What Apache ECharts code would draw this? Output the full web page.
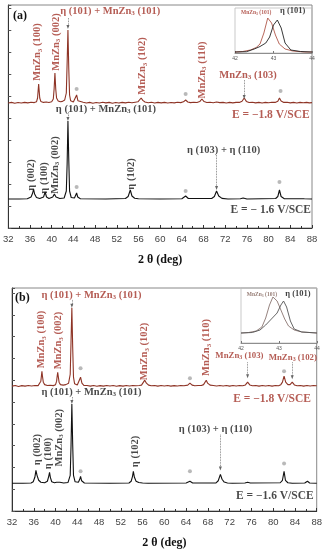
<!DOCTYPE html>
<html><head><meta charset="utf-8">
<script src="https://cdn.jsdelivr.net/npm/echarts@6/dist/echarts.min.js"></script>
<style>html,body{margin:0;padding:0;background:#fff}#c{width:325px;height:550px}</style>
</head><body><div id="c"></div>
<script>
// ---- data (2θ in deg, intensity above each pattern's own baseline, arbitrary units) ----
const redA = [[32,0],[32.6,0.6],[33.2,-0.3],[33.8,0.5],[34.4,0],[35,0.6],[35.6,0.1],[36.2,0.7],[36.8,0.4],[37.2,1.2],[37.4,5],[37.5,12],[37.6,19],[37.7,12],[37.8,5],[38,1.6],[38.5,0.6],[39,1],[39.5,0.5],[40,1.2],[40.3,4],[40.45,14],[40.6,30],[40.75,14],[40.9,5],[41.2,2],[41.6,1.2],[42,1.6],[42.4,3],[42.7,10],[42.85,40],[43,73],[43.15,35],[43.3,8],[43.5,2.2],[44,1],[44.35,2.5],[44.6,8],[44.85,2.2],[45.2,0.6],[45.8,0.8],[46.4,0],[47,0.6],[47.6,-0.2],[48.2,0.5],[48.8,0],[49.4,0.7],[50,0.1],[50.6,0.6],[51.2,-0.2],[51.8,0.5],[52.4,0],[53,0.6],[53.6,0.1],[54.2,0.7],[54.8,0.3],[55.4,0.8],[55.9,1.2],[56.2,2.8],[56.5,5],[56.8,2.6],[57.2,1],[57.8,0.3],[58.4,0.7],[59,0],[59.6,0.6],[60.2,0.1],[60.8,0.6],[61.4,0],[62,0.5],[62.6,0.1],[63.2,0.7],[63.8,0.4],[64.3,1.2],[64.7,3],[65.1,1],[65.6,0.4],[66.2,0.7],[66.8,0.5],[67.3,1.4],[67.7,4],[68.1,1.4],[68.6,0.5],[69.2,0.8],[69.8,0.3],[70.4,1],[71,0.4],[71.6,0.6],[72.2,0],[72.8,0.6],[73.4,0.1],[74,0.6],[74.6,0.6],[75.1,1.8],[75.5,5],[75.9,1.6],[76.4,0.5],[77,0.7],[77.6,0.1],[78.2,0.6],[78.8,0],[79.4,0.6],[80,0.2],[80.6,0.7],[81.2,0.6],[81.7,1.8],[82,5],[82.3,2],[82.8,0.6],[83.4,0.8],[84,0.1],[84.6,0.6],[85.2,0],[85.8,0.6],[86.4,0.3],[87,0.6],[87.5,0.1],[88,0.4]];
const blackA = [[32,0],[34,0],[35.5,0.3],[36.2,2],[36.5,6],[36.66,10],[36.85,5],[37.2,1.5],[37.8,0.5],[38.5,2],[38.8,7],[39.05,2],[39.5,0.6],[40.2,2],[40.5,5],[40.8,2],[41.5,0.5],[42.3,1],[42.7,8],[42.85,35],[43,78],[43.15,40],[43.3,8],[43.6,1.5],[44.2,1],[44.45,3],[44.6,6],[44.8,2],[45.3,0.3],[50,0],[53.6,0.5],[54.1,2.5],[54.5,9],[54.8,3],[55.3,0.8],[56,0.2],[60,0],[64,0.3],[64.7,3],[65.2,0.5],[69.5,0.5],[70,2.5],[70.4,8],[70.8,3],[71.4,0.6],[72.5,0],[74.8,0.2],[75.3,1],[76,0],[81.3,0.5],[81.7,2.5],[82,9],[82.3,2.5],[82.9,0.3],[86,0.3],[86.3,1],[86.6,0.2],[88,0]];
const redB = [[32,0],[32.6,0.6],[33.2,-0.3],[33.8,0.5],[34.4,0],[35,0.6],[35.6,0.1],[36.2,0.6],[36.8,0.5],[37.1,1.5],[37.3,5],[37.4,10],[37.5,15],[37.6,10],[37.75,4],[38,1.5],[38.5,0.6],[39,0.9],[39.6,0.5],[40,1.5],[40.2,5],[40.3,10],[40.4,14],[40.5,10],[40.65,4],[40.9,1.5],[41.4,1],[41.9,1.5],[42.4,3],[42.7,12],[42.85,45],[43,79],[43.15,40],[43.3,9],[43.5,2.5],[44,1.2],[44.35,3],[44.6,9],[44.85,3],[45.2,0.8],[45.8,0.6],[46.4,0],[47,0.6],[47.6,-0.2],[48.2,0.5],[48.8,0],[49.4,0.7],[50,0.1],[50.6,0.6],[51.2,-0.2],[51.8,0.5],[52.4,0],[53,0.6],[53.6,0.1],[54.2,0.7],[54.8,0.3],[55.4,0.6],[55.8,1],[56.1,3],[56.4,6],[56.7,3],[57.1,1],[57.6,0.3],[58.2,0.7],[58.8,0],[59.4,0.6],[60,0.1],[60.6,0.6],[61.2,0],[61.8,0.5],[62.4,0.1],[63,0.7],[63.6,0.3],[64.3,1],[64.7,3],[65.1,1],[65.6,0.4],[66.2,0.7],[66.8,0.6],[67.2,1.5],[67.5,3.5],[67.7,6],[67.95,3],[68.4,1],[69,0.6],[69.6,0.2],[70.2,0.7],[70.8,0.1],[71.4,0.6],[72,0],[72.6,0.6],[73.2,0.1],[73.8,0.6],[74.4,0.3],[74.9,1.2],[75.3,4],[75.7,1.2],[76.2,0.4],[76.8,0.7],[77.4,0],[78,0.6],[78.6,0.1],[79.2,0.6],[79.8,0],[80.4,0.6],[81,0.4],[81.4,1.5],[81.7,4],[82,10],[82.3,4],[82.7,1.5],[83.1,1.5],[83.5,4],[83.9,1.2],[84.4,0.4],[85,0.6],[85.6,0],[86.2,0.6],[86.8,0.1],[87.4,0.6],[88,0.3]];
const blackB = [[32,0],[34,0],[35.5,0.3],[35.9,1.5],[36.2,6],[36.4,13],[36.6,8],[36.9,3],[37.3,1],[38,0.5],[38.5,2],[38.75,7],[38.9,11],[39.05,6],[39.3,1.5],[39.8,0.5],[40.2,1],[40.5,2],[40.8,1],[41.5,0.3],[42.3,0.8],[42.7,8],[42.85,38],[43,80],[43.15,40],[43.3,8],[43.6,1.5],[44.2,1],[44.45,4],[44.6,7],[44.8,2.5],[45.3,0.3],[50,0],[53.5,0.3],[53.9,2],[54.15,7],[54.3,12],[54.5,6],[54.8,2],[55.3,0.7],[56,0.3],[57,0],[64,0.2],[64.7,2],[65.2,0.3],[69.5,0.4],[69.9,2.5],[70.3,9],[70.6,4],[71,1.2],[71.6,0.3],[72.5,0],[74.8,0.2],[75.3,1],[75.8,0.2],[81.3,0.5],[81.7,3],[82,12],[82.25,3],[82.7,0.5],[83.5,0],[85.8,0.2],[86.3,2],[86.7,0.3],[88,0]];
// insets: zoom on the (101) reflection, 42-44 deg
const insetRedA = [[42,1],[42.2,1.5],[42.4,3],[42.55,5.5],[42.65,9],[42.75,20],[42.85,35],[42.95,30],[43.05,18],[43.15,9],[43.3,4],[43.5,2],[43.8,1],[44,1]];
const insetBlackA = [[42,1],[42.3,1.3],[42.5,4],[42.65,6.5],[42.8,10],[42.9,16],[43,28],[43.1,33],[43.2,25],[43.3,10],[43.45,3],[43.7,1.5],[44,1]];
const insetMnB = [[42,10],[42.2,10.5],[42.4,12],[42.55,16],[42.65,25],[42.75,38],[42.84,46],[42.95,42],[43.05,33],[43.15,24],[43.25,17],[43.4,13],[43.6,11],[44,10]];
const insetEtaB = [[42,10],[42.3,10.5],[42.5,13],[42.65,18],[42.8,24],[42.95,30],[43.05,38],[43.12,42],[43.2,36],[43.3,22],[43.4,14],[43.6,11],[44,10]];
// stacking offsets of the two patterns in each panel
const offsetsA = {black: 29, red: 125};
const offsetsB = {black: 28, red: 126};
// impurity peaks marked with dots (2θ, intensity incl. offset)
const dotsA = [[44.6,139],[64.7,134],[82.2,137],[44.6,41],[64.7,37],[82,46]];
const dotsB = [[44.6,144],[64.7,134],[82,141],[44.6,40],[64.7,40],[82,48]];
// arrows: [2θ, from, to]
const arrowsA = [[43,210,201],[75.5,148,131],[43,116,109],[70.4,73,40]];
const arrowsB = [[43,213,207],[75.3,150,136],[83.5,150,135],[43,115,110],[70.3,77,43]];
// annotations: [2θ, intensity, text, rotate, colour key]
const labelsA = [
  [50.8,217,'η (101) + MnZn_3 (101)',0,'r'],
  [37.4,176,'MnZn_3 (100)',90,'r'],
  [40.8,186,'MnZn_3 (002)',90,'r'],
  [56.7,162,'MnZn_3 (102)',90,'r'],
  [67.7,158,'MnZn_3 (110)',90,'r'],
  [76.2,153,'MnZn_3 (103)',0,'r'],
  [80.4,113,'E = −1.8 V/SCE',0,'R'],
  [50.0,119,'η (101) + MnZn_3 (101)',0,'k'],
  [36.2,53,'η (002)',90,'k'],
  [38.7,50,'η (100)',90,'k'],
  [40.6,63,'MnZn_3 (002)',90,'k'],
  [54.6,54,'η (102)',90,'k'],
  [71.7,78,'η (103) + η (110)',0,'k'],
  [80.4,18,'E = − 1.6 V/SCE',0,'K']
];
const labelsB = [
  [46.6,218,'η (101) + MnZn_3 (101)',0,'r'],
  [37.4,173,'MnZn_3 (100)',90,'r'],
  [40.5,172,'MnZn_3 (002)',90,'r'],
  [56.4,161,'MnZn_3 (102)',90,'r'],
  [67.7,165,'MnZn_3 (110)',90,'r'],
  [73.8,157,'MnZn_3 (103)',0,'rs'],
  [83.6,155,'MnZn_3 (102)',0,'rs'],
  [79.8,113,'E = −1.8 V/SCE',0,'R'],
  [46.6,120,'η (101) + MnZn_3 (101)',0,'k'],
  [36.6,62,'η (002)',90,'k'],
  [38.7,58,'η (100)',90,'k'],
  [40.6,74,'MnZn_3 (002)',90,'k'],
  [54.6,60,'η (102)',90,'k'],
  [69.4,82,'η (103) + η (110)',0,'k'],
  [80.3,15,'E = −1.6 V/SCE',0,'K']
];
const insetLabelsA = [[42.55,40,'MnZn_3 (101)','ir'],[43.5,42,'η (101)','ik']];
const insetLabelsB = [[42.55,48,'MnZn_3 (101)','ig'],[43.5,49,'η (101)','ik']];

// ---- styling ----
const RED = '#a3342b', RED_LINE = '#8e3426', SERIF = '"Liberation Serif", "DejaVu Serif", serif';
const styleMap = {
  r:{color:RED,size:10.5}, rs:{color:RED,size:8.8}, R:{color:RED,size:11.5},
  k:{color:'#1a1a1a',size:10.5}, K:{color:'#1a1a1a',size:11.5},
  ir:{color:RED,size:5.5}, ik:{color:'#111',size:8.5}, ig:{color:'#7a5a50',size:5.5}
};
function rt(s){ return s.replace(/_3/g,'{s|3}'); }
function shift(arr,off){ return arr.map(p=>[p[0],p[1]+off]); }

function labelSeries(list, xi, yi){
  return {
    type:'scatter', xAxisIndex:xi, yAxisIndex:yi, symbolSize:1, silent:true,
    itemStyle:{color:'rgba(0,0,0,0)'}, z:5,
    data:list.map(l=>{
      const st = styleMap[l[4]];
      return {value:[l[0],l[1]], label:{show:true, position:'inside', rotate:l[3], formatter:rt(l[2]),
        color:st.color, fontSize:st.size, fontFamily:SERIF, fontWeight:'bold',
        rich:{s:{fontSize:st.size*0.68, fontFamily:SERIF, fontWeight:'bold', color:st.color, verticalAlign:'bottom', lineHeight:st.size*1.15}}}};
    })
  };
}
function insetLabelSeries(list, xi, yi){
  return labelSeries(list.map(l=>[l[0],l[1],l[2],0,l[3]]), xi, yi);
}
function dotSeries(list, xi, yi){
  return {type:'scatter', xAxisIndex:xi, yAxisIndex:yi, symbol:'circle', symbolSize:4, silent:true,
    itemStyle:{color:'#a8a8a8'}, data:list, z:4};
}
function arrowSeries(list, xi, yi){
  return {type:'line', xAxisIndex:xi, yAxisIndex:yi, data:[], silent:true,
    markLine:{silent:true, symbol:['none','triangle'], symbolSize:[3,4], label:{show:false},
      lineStyle:{type:'dotted', color:'#666', width:0.8},
      data:list.map(a=>[{coord:[a[0],a[1]]},{coord:[a[0],a[2]]}])}};
}
function curve(data, xi, yi, color, w){
  return {type:'line', xAxisIndex:xi, yAxisIndex:yi, data:data, symbol:'none', silent:true,
    lineStyle:{color:color, width:w}, z:3};
}
function mainX(gi){
  return {gridIndex:gi, type:'value', min:32, max:88, interval:4,
    axisLine:{lineStyle:{color:'#333', width:1}},
    axisTick:{inside:true, length:3, lineStyle:{color:'#333'}},
    minorTick:{show:true, splitNumber:2, length:2, lineStyle:{color:'#333'}},
    axisLabel:{color:'#444', fontSize:9.5, fontFamily:'"Liberation Sans", Arial, sans-serif', margin:6},
    splitLine:{show:false},
    name:'2 θ (deg)', nameLocation:'middle', nameGap:26,
    nameTextStyle:{fontFamily:SERIF, fontWeight:'bold', fontSize:12, color:'#111'}};
}
function mainY(gi,max){
  return {gridIndex:gi, type:'value', min:0, max:max, interval:22,
    axisLine:{show:true, lineStyle:{color:'#333'}},
    axisTick:{show:true, inside:true, length:3, lineStyle:{color:'#555'}},
    axisLabel:{show:false}, splitLine:{show:false}};
}
function insetX(gi){
  return {gridIndex:gi, type:'value', min:42, max:44, interval:1,
    axisLine:{lineStyle:{color:'#777', width:0.8}},
    axisTick:{inside:true, length:2, lineStyle:{color:'#777'}},
    axisLabel:{color:'#555', fontSize:5, margin:3}, splitLine:{show:false}};
}
function insetY(gi,max){
  return {gridIndex:gi, type:'value', min:0, max:max, show:false, splitLine:{show:false}};
}

const chart = echarts.init(document.getElementById('c'), null, {renderer:'canvas'});
chart.setOption({
  animation:false,
  backgroundColor:'#fff',
  grid:[
    {left:8, right:13, top:5, height:223, show:true, borderColor:'#888', borderWidth:1},
    {left:235, right:13, top:8, height:45, show:true, borderColor:'#bbb', borderWidth:0.8},
    {left:12, right:7, top:288, height:225, show:true, borderColor:'#888', borderWidth:1},
    {left:241, right:8, top:288, height:55, show:true, borderColor:'#bbb', borderWidth:0.8}
  ],
  xAxis:[mainX(0), insetX(1), mainX(2), insetX(3)],
  yAxis:[mainY(0,223), insetY(1,45), mainY(2,225), insetY(3,55)],
  graphic:[
    {type:'text', left:13, top:10, style:{text:'(a)', font:'bold 12px '+SERIF, fill:'#111'}},
    {type:'text', left:15, top:292, style:{text:'(b)', font:'bold 12px '+SERIF, fill:'#111'}}
  ],
  series:[
    curve(shift(blackA,offsetsA.black),0,0,'#111',1.1),
    curve(shift(redA,offsetsA.red),0,0,RED_LINE,1.1),
    curve(insetRedA,1,1,'#b0574a',0.9),
    curve(insetBlackA,1,1,'#222',0.9),
    curve(shift(blackB,offsetsB.black),2,2,'#111',1.1),
    curve(shift(redB,offsetsB.red),2,2,RED_LINE,1.1),
    curve(insetMnB,3,3,'#8a7570',0.9),
    curve(insetEtaB,3,3,'#555',0.9),
    dotSeries(dotsA,0,0), dotSeries(dotsB,2,2),
    arrowSeries(arrowsA,0,0), arrowSeries(arrowsB,2,2),
    labelSeries(labelsA,0,0), labelSeries(labelsB,2,2),
    insetLabelSeries(insetLabelsA,1,1), insetLabelSeries(insetLabelsB,3,3)
  ]
});
</script></body></html>
